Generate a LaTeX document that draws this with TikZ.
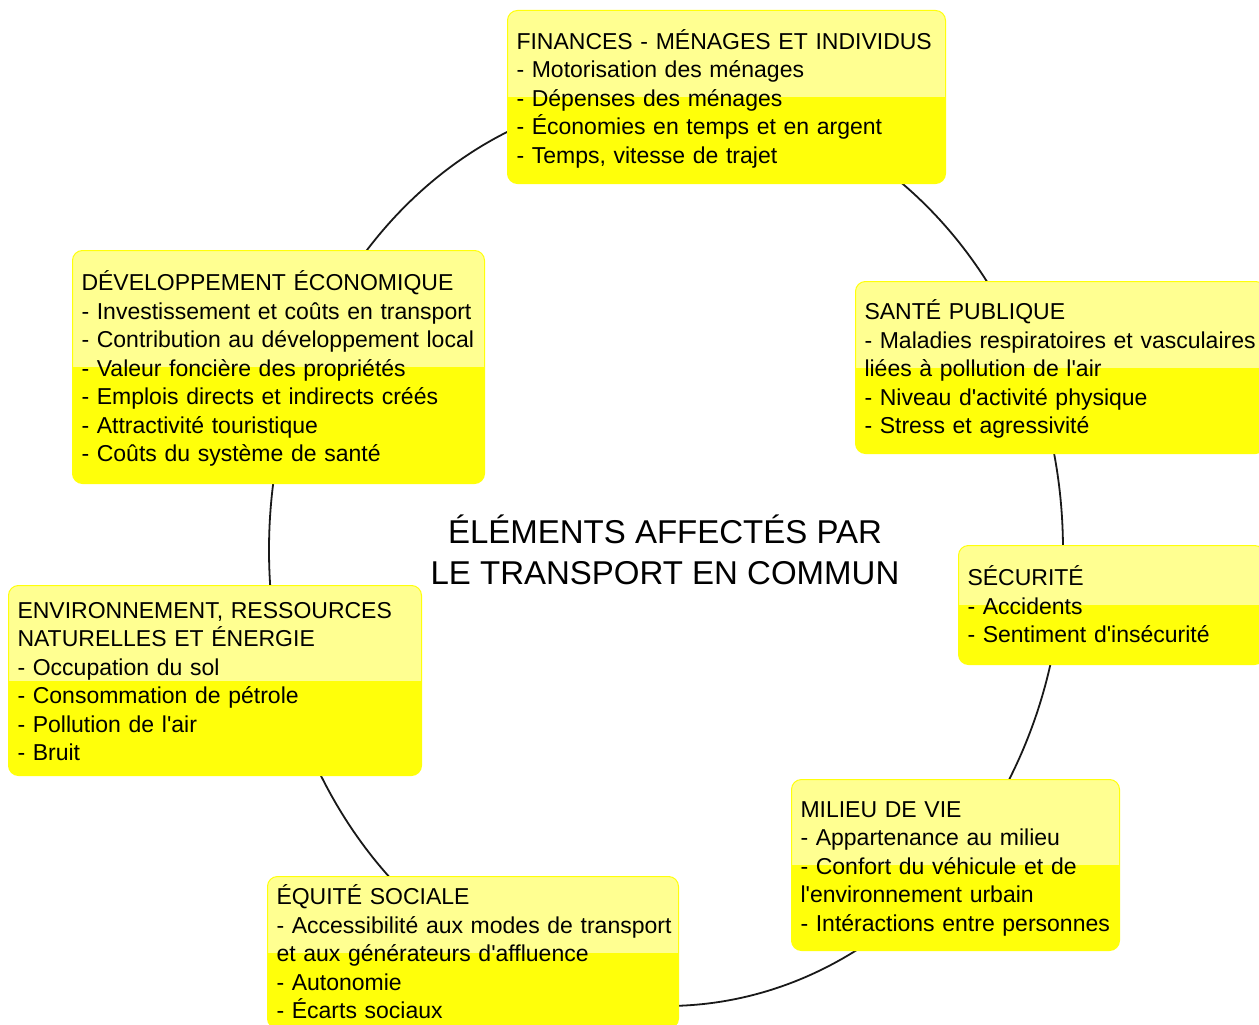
\documentclass[tikz,border=0pt]{standalone}
\usepackage{fontspec}
\newfontfamily\arial{Liberation Sans}
\definecolor{jauneclair}{RGB}{255,255,145}
\definecolor{jaune}{RGB}{255,255,10}
\tikzset{
  boite/.style={draw=jaune, line width=1pt, fill=jaune, rounded corners=10pt, anchor=north west,
    inner xsep=9pt, inner ysep=0pt, align=left, font=\arial\fontsize{23}{28.5}\selectfont,
    execute at end node={\par\vspace*{-7pt}},
    path picture={\fill[jauneclair, sharp corners] (path picture bounding box.north west) rectangle (path picture bounding box.east);}}
}
\begin{document}
\begin{tikzpicture}[x=1pt, y=-1pt]
            \useasboundingbox[fill=white] (0,0) rectangle (1259,1025);
            \draw[line width=1.8pt, black!90] (666,550) ellipse [x radius=397, y radius=456];
            \node [font=\arial\fontsize{33}{41}\selectfont, align=center] (titre) at (665,549.5) {ÉLÉMENTS AFFECTÉS PAR\\LE TRANSPORT EN COMMUN};
            \node [boite, text width=420pt, minimum height=173pt] (finances) at (507,10) {\begin{tabular}{@{}l@{}}FINANCES - MÉNAGES ET INDIVIDUS\\- Motorisation des ménages\\- Dépenses des ménages\\- Économies en temps et en argent\\- Temps, vitesse de trajet\end{tabular}};
            \node [boite, text width=392pt, minimum height=172pt] (sante) at (855,281) {\begin{tabular}{@{}l@{}}SANTÉ PUBLIQUE\\- Maladies respiratoires et vasculaires\\liées à pollution de l'air\\- Niveau d'activité physique\\- Stress et agressivité\end{tabular}};
            \node [boite, text width=288pt, minimum height=119pt] (securite) at (958,545) {\begin{tabular}{@{}l@{}}SÉCURITÉ\\- Accidents\\- Sentiment d'insécurité\end{tabular}};
            \node [boite, text width=310pt, minimum height=171pt] (milieu) at (791,779) {\begin{tabular}{@{}l@{}}MILIEU DE VIE\\- Appartenance au milieu\\- Confort du véhicule et de\\l'environnement urbain\\- Intéractions entre personnes\end{tabular}};
            \node [boite, text width=393pt, minimum height=152pt] (equite) at (267,876) {\begin{tabular}{@{}l@{}}ÉQUITÉ SOCIALE\\- Accessibilité aux modes de transport\\et aux générateurs d'affluence\\- Autonomie\\- Écarts sociaux\end{tabular}};
            \node [boite, text width=395pt, minimum height=190pt] (environnement) at (8,585) {\begin{tabular}{@{}l@{}}ENVIRONNEMENT, RESSOURCES\\NATURELLES ET ÉNERGIE\\- Occupation du sol\\- Consommation de pétrole\\- Pollution de l'air\\- Bruit\end{tabular}};
            \node [boite, text width=394pt, minimum height=233pt] (developpement) at (72,250) {\begin{tabular}{@{}l@{}}DÉVELOPPEMENT ÉCONOMIQUE\\- Investissement et coûts en transport\\- Contribution au développement local\\- Valeur foncière des propriétés\\- Emplois directs et indirects créés\\- Attractivité touristique\\- Coûts du système de santé\end{tabular}};
        \end{tikzpicture}
\end{document}
